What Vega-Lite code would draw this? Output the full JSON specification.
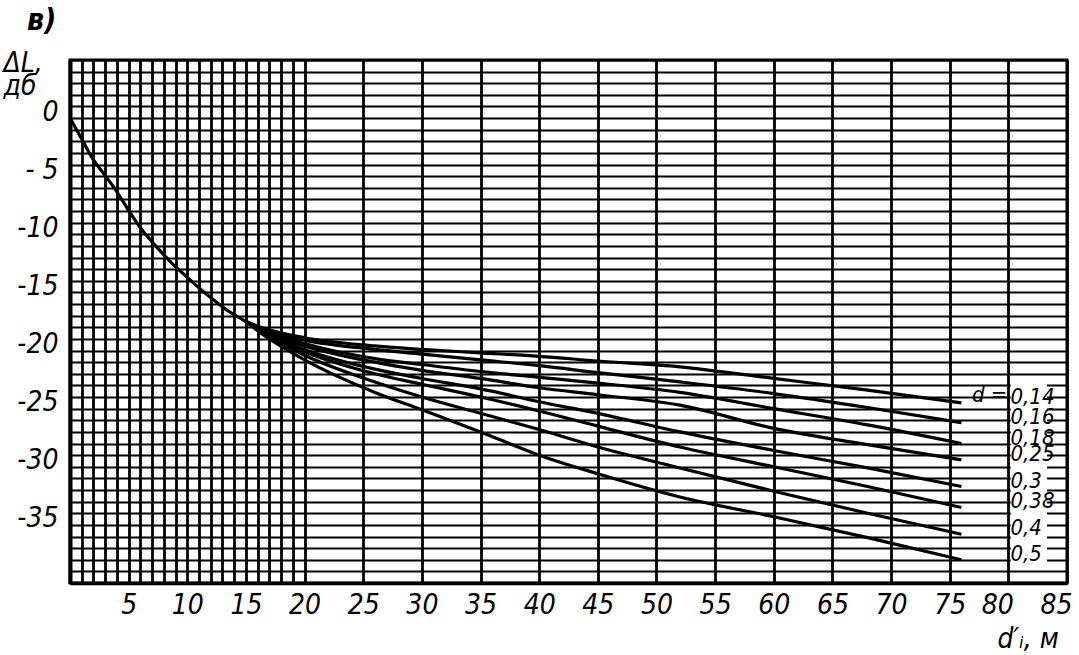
{
  "$schema": "https://vega.github.io/schema/vega-lite/v6.json",
  "width": 997,
  "height": 523,
  "autosize": {"type": "none"},
  "padding": {"left": 70, "top": 60, "right": 12, "bottom": 72},
  "background": "white",
  "config": {
    "view": {"stroke": "black", "strokeWidth": 3},
    "axis": {
      "gridColor": "black", "gridOpacity": 1, "ticks": false, "domainColor": "black",
      "labelFont": "'Liberation Sans Narrow', 'DejaVu Sans Condensed', 'Liberation Sans', sans-serif",
      "labelFontSize": 28, "labelFontStyle": "italic", "labelColor": "black", "labelFlush": false, "labelOverlap": false,
      "titleFont": "'Liberation Sans Narrow', 'DejaVu Sans Condensed', 'Liberation Sans', sans-serif",
      "titleFontSize": 28, "titleFontStyle": "italic", "titleFontWeight": "normal", "titleColor": "black"
    }
  },
  "title": {"text": "в)", "anchor": "start", "frame": "group", "dx": -43, "offset": 4, "fontSize": 30, "fontWeight": "bold", "fontStyle": "italic", "font": "'Liberation Sans Narrow', 'DejaVu Sans Condensed', 'Liberation Sans', sans-serif", "color": "black"},
  "datasets": {
    "curves": [
    {"s": "c", "x": 0, "y": 0}, {"s": "c", "x": 1, "y": -1.8}, {"s": "c", "x": 2, "y": -3.6}, {"s": "c", "x": 3, "y": -4.95}, {"s": "c", "x": 3.7, "y": -5.9}, {"s": "c", "x": 5.1, "y": -8.1}, {"s": "c", "x": 6.2, "y": -9.7}, {"s": "c", "x": 7.4, "y": -11.1}, {"s": "c", "x": 8.7, "y": -12.5}, {"s": "c", "x": 10, "y": -13.7}, {"s": "c", "x": 11.1, "y": -14.7}, {"s": "c", "x": 12.2, "y": -15.6}, {"s": "c", "x": 13.5, "y": -16.6}, {"s": "c", "x": 15, "y": -17.5},
    {"s": "0,14", "x": 15, "y": -17.5}, {"s": "0,14", "x": 16, "y": -17.9}, {"s": "0,14", "x": 20, "y": -18.9}, {"s": "0,14", "x": 26, "y": -19.6}, {"s": "0,14", "x": 30, "y": -19.9}, {"s": "0,14", "x": 35, "y": -20.2}, {"s": "0,14", "x": 40, "y": -20.5}, {"s": "0,14", "x": 45, "y": -20.9}, {"s": "0,14", "x": 52, "y": -21.4}, {"s": "0,14", "x": 60, "y": -22.4}, {"s": "0,14", "x": 68, "y": -23.4}, {"s": "0,14", "x": 76, "y": -24.5},
    {"s": "0,16", "x": 15, "y": -17.5}, {"s": "0,16", "x": 16, "y": -18.0}, {"s": "0,16", "x": 20, "y": -19.1}, {"s": "0,16", "x": 26, "y": -19.9}, {"s": "0,16", "x": 30, "y": -20.3}, {"s": "0,16", "x": 35, "y": -20.8}, {"s": "0,16", "x": 40, "y": -21.3}, {"s": "0,16", "x": 45, "y": -21.9}, {"s": "0,16", "x": 52, "y": -22.7}, {"s": "0,16", "x": 60, "y": -23.7}, {"s": "0,16", "x": 68, "y": -24.9}, {"s": "0,16", "x": 76, "y": -26.2},
    {"s": "0,18", "x": 15, "y": -17.5}, {"s": "0,18", "x": 16, "y": -18.0}, {"s": "0,18", "x": 20, "y": -19.4}, {"s": "0,18", "x": 26, "y": -20.7}, {"s": "0,18", "x": 30, "y": -21.2}, {"s": "0,18", "x": 35, "y": -21.8}, {"s": "0,18", "x": 40, "y": -22.3}, {"s": "0,18", "x": 45, "y": -22.8}, {"s": "0,18", "x": 52, "y": -23.6}, {"s": "0,18", "x": 60, "y": -25.0}, {"s": "0,18", "x": 68, "y": -26.4}, {"s": "0,18", "x": 76, "y": -28.0},
    {"s": "0,25", "x": 15, "y": -17.5}, {"s": "0,25", "x": 16, "y": -18.1}, {"s": "0,25", "x": 20, "y": -19.6}, {"s": "0,25", "x": 26, "y": -21.0}, {"s": "0,25", "x": 30, "y": -21.7}, {"s": "0,25", "x": 35, "y": -22.4}, {"s": "0,25", "x": 40, "y": -23.2}, {"s": "0,25", "x": 45, "y": -23.8}, {"s": "0,25", "x": 52, "y": -24.7}, {"s": "0,25", "x": 60, "y": -26.7}, {"s": "0,25", "x": 68, "y": -28.1}, {"s": "0,25", "x": 76, "y": -29.4},
    {"s": "0,3", "x": 15, "y": -17.5}, {"s": "0,3", "x": 16, "y": -18.1}, {"s": "0,3", "x": 20, "y": -19.9}, {"s": "0,3", "x": 26, "y": -21.6}, {"s": "0,3", "x": 30, "y": -22.4}, {"s": "0,3", "x": 35, "y": -23.3}, {"s": "0,3", "x": 40, "y": -24.4}, {"s": "0,3", "x": 45, "y": -25.4}, {"s": "0,3", "x": 52, "y": -27.0}, {"s": "0,3", "x": 60, "y": -28.6}, {"s": "0,3", "x": 68, "y": -30.1}, {"s": "0,3", "x": 76, "y": -31.7},
    {"s": "0,38", "x": 15, "y": -17.5}, {"s": "0,38", "x": 16, "y": -18.2}, {"s": "0,38", "x": 20, "y": -20.1}, {"s": "0,38", "x": 26, "y": -22.0}, {"s": "0,38", "x": 30, "y": -22.9}, {"s": "0,38", "x": 35, "y": -24.0}, {"s": "0,38", "x": 40, "y": -25.2}, {"s": "0,38", "x": 45, "y": -26.5}, {"s": "0,38", "x": 52, "y": -28.3}, {"s": "0,38", "x": 60, "y": -30.0}, {"s": "0,38", "x": 68, "y": -31.7}, {"s": "0,38", "x": 76, "y": -33.5},
    {"s": "0,4", "x": 15, "y": -17.5}, {"s": "0,4", "x": 16, "y": -18.2}, {"s": "0,4", "x": 20, "y": -20.4}, {"s": "0,4", "x": 26, "y": -22.7}, {"s": "0,4", "x": 30, "y": -24.0}, {"s": "0,4", "x": 35, "y": -25.4}, {"s": "0,4", "x": 40, "y": -26.8}, {"s": "0,4", "x": 45, "y": -28.3}, {"s": "0,4", "x": 52, "y": -30.1}, {"s": "0,4", "x": 60, "y": -32.1}, {"s": "0,4", "x": 68, "y": -34.0}, {"s": "0,4", "x": 76, "y": -35.8},
    {"s": "0,5", "x": 15, "y": -17.5}, {"s": "0,5", "x": 16, "y": -18.3}, {"s": "0,5", "x": 20, "y": -20.8}, {"s": "0,5", "x": 26, "y": -23.6}, {"s": "0,5", "x": 30, "y": -25.1}, {"s": "0,5", "x": 35, "y": -27.0}, {"s": "0,5", "x": 40, "y": -29.0}, {"s": "0,5", "x": 45, "y": -30.6}, {"s": "0,5", "x": 52, "y": -32.6}, {"s": "0,5", "x": 60, "y": -34.3}, {"s": "0,5", "x": 68, "y": -36.1}, {"s": "0,5", "x": 76, "y": -38.0}
    ],
    "legendbox": [{"x": 80.2, "x1": 83.3, "y": -22.4, "y1": -38.4}]
  },
  "layer": [
    {
      "data": {"name": "legendbox"},
      "mark": {"type": "rect", "fill": "white", "fillOpacity": 1, "opacity": 1, "strokeWidth": 0},
      "encoding": {
        "x": {"field": "x", "type": "quantitative", "scale": {"domain": [0, 85], "nice": false, "zero": false},
          "axis": {"values": [0,1,2,3,4,5,6,7,8,9,10,11,12,13,14,15,16,17,18,19,20,25,30,35,40,45,50,55,60,65,70,75,80,85], "grid": true, "gridWidth": 2.8, "domain": true, "domainWidth": 3.5, "labelExpr": "datum.value % 5 == 0 && datum.value > 0 ? datum.label : ''", "labelOffset": {"condition": {"test": "datum.value >= 80", "value": -11}, "value": 0}, "labelPadding": 8, "title": "d′ᵢ, м", "titleX": 927, "titleY": 64, "titleAlign": "left", "titleBaseline": "alphabetic"}},
        "x2": {"field": "x1"},
        "y": {"field": "y", "type": "quantitative", "scale": {"domain": [-40, 5], "nice": false, "zero": false},
          "axis": {"values": [-40,-39,-38,-37,-36,-35,-34,-33,-32,-31,-30,-29,-28,-27,-26,-25,-24,-23,-22,-21,-20,-19,-18,-17,-16,-15,-14,-13,-12,-11,-10,-9,-8,-7,-6,-5,-4,-3,-2,-1,0,1,2,3,4,5], "grid": true, "gridWidth": 2.2, "domain": true, "domainWidth": 4, "labelExpr": "datum.value % 5 == 0 && datum.value <= 0 && datum.value >= -35 ? (datum.value == 0 ? '0' : (datum.value == -5 ? '- 5' : '-' + abs(datum.value))) : ''", "labelPadding": 12, "labelOffset": -6, "title": ["ΔL,", "дб"], "titleAngle": 0, "titleX": -67, "titleY": -11, "titleAlign": "left", "titleBaseline": "top", "titleLineHeight": 23}},
        "y2": {"field": "y1"}
      }
    },
    {
      "data": {"name": "curves"},
      "mark": {"type": "line", "color": "black", "strokeWidth": 3.2, "interpolate": "monotone"},
      "encoding": {
        "x": {"field": "x", "type": "quantitative", "scale": {"domain": [0, 85], "nice": false, "zero": false},
          "axis": {"values": [0,1,2,3,4,5,6,7,8,9,10,11,12,13,14,15,16,17,18,19,20,25,30,35,40,45,50,55,60,65,70,75,80,85], "grid": true, "gridWidth": 2.8, "domain": true, "domainWidth": 3.5, "labelExpr": "datum.value % 5 == 0 && datum.value > 0 ? datum.label : ''", "labelOffset": {"condition": {"test": "datum.value >= 80", "value": -11}, "value": 0}, "labelPadding": 8, "title": "d′ᵢ, м", "titleX": 927, "titleY": 64, "titleAlign": "left", "titleBaseline": "alphabetic"}},
        "y": {"field": "y", "type": "quantitative", "scale": {"domain": [-40, 5], "nice": false, "zero": false},
          "axis": {"values": [-40,-39,-38,-37,-36,-35,-34,-33,-32,-31,-30,-29,-28,-27,-26,-25,-24,-23,-22,-21,-20,-19,-18,-17,-16,-15,-14,-13,-12,-11,-10,-9,-8,-7,-6,-5,-4,-3,-2,-1,0,1,2,3,4,5], "grid": true, "gridWidth": 2.2, "domain": true, "domainWidth": 4, "labelExpr": "datum.value % 5 == 0 && datum.value <= 0 && datum.value >= -35 ? (datum.value == 0 ? '0' : (datum.value == -5 ? '- 5' : '-' + abs(datum.value))) : ''", "labelPadding": 12, "labelOffset": -6, "title": ["ΔL,", "дб"], "titleAngle": 0, "titleX": -67, "titleY": -11, "titleAlign": "left", "titleBaseline": "top", "titleLineHeight": 23}},
        "detail": {"field": "s"}
      }
    },
    {
      "data": {"name": "curves"},
      "transform": [{"filter": "datum.x == 76"}],
      "mark": {"type": "text", "align": "left", "baseline": "middle", "dx": 49, "dy": -6, "fontSize": 22, "fontStyle": "italic", "color": "black", "font": "'Liberation Sans Narrow', 'DejaVu Sans Condensed', 'Liberation Sans', sans-serif"},
      "encoding": {
        "x": {"field": "x", "type": "quantitative", "scale": {"domain": [0, 85], "nice": false, "zero": false},
          "axis": {"values": [0,1,2,3,4,5,6,7,8,9,10,11,12,13,14,15,16,17,18,19,20,25,30,35,40,45,50,55,60,65,70,75,80,85], "grid": true, "gridWidth": 2.8, "domain": true, "domainWidth": 3.5, "labelExpr": "datum.value % 5 == 0 && datum.value > 0 ? datum.label : ''", "labelOffset": {"condition": {"test": "datum.value >= 80", "value": -11}, "value": 0}, "labelPadding": 8, "title": "d′ᵢ, м", "titleX": 927, "titleY": 64, "titleAlign": "left", "titleBaseline": "alphabetic"}},
        "y": {"field": "y", "type": "quantitative", "scale": {"domain": [-40, 5], "nice": false, "zero": false},
          "axis": {"values": [-40,-39,-38,-37,-36,-35,-34,-33,-32,-31,-30,-29,-28,-27,-26,-25,-24,-23,-22,-21,-20,-19,-18,-17,-16,-15,-14,-13,-12,-11,-10,-9,-8,-7,-6,-5,-4,-3,-2,-1,0,1,2,3,4,5], "grid": true, "gridWidth": 2.2, "domain": true, "domainWidth": 4, "labelExpr": "datum.value % 5 == 0 && datum.value <= 0 && datum.value >= -35 ? (datum.value == 0 ? '0' : (datum.value == -5 ? '- 5' : '-' + abs(datum.value))) : ''", "labelPadding": 12, "labelOffset": -6, "title": ["ΔL,", "дб"], "titleAngle": 0, "titleX": -67, "titleY": -11, "titleAlign": "left", "titleBaseline": "top", "titleLineHeight": 23}},
        "text": {"field": "s"}
      }
    },
    {
      "data": {"name": "curves"},
      "transform": [{"filter": "datum.x == 76 && datum.s == '0,14'"}],
      "mark": {"type": "text", "text": "d =", "align": "right", "baseline": "middle", "dx": 46, "dy": -8, "fontSize": 22, "fontStyle": "italic", "color": "black", "font": "'Liberation Sans Narrow', 'DejaVu Sans Condensed', 'Liberation Sans', sans-serif"},
      "encoding": {
        "x": {"field": "x", "type": "quantitative", "scale": {"domain": [0, 85], "nice": false, "zero": false},
          "axis": {"values": [0,1,2,3,4,5,6,7,8,9,10,11,12,13,14,15,16,17,18,19,20,25,30,35,40,45,50,55,60,65,70,75,80,85], "grid": true, "gridWidth": 2.8, "domain": true, "domainWidth": 3.5, "labelExpr": "datum.value % 5 == 0 && datum.value > 0 ? datum.label : ''", "labelOffset": {"condition": {"test": "datum.value >= 80", "value": -11}, "value": 0}, "labelPadding": 8, "title": "d′ᵢ, м", "titleX": 927, "titleY": 64, "titleAlign": "left", "titleBaseline": "alphabetic"}},
        "y": {"field": "y", "type": "quantitative", "scale": {"domain": [-40, 5], "nice": false, "zero": false},
          "axis": {"values": [-40,-39,-38,-37,-36,-35,-34,-33,-32,-31,-30,-29,-28,-27,-26,-25,-24,-23,-22,-21,-20,-19,-18,-17,-16,-15,-14,-13,-12,-11,-10,-9,-8,-7,-6,-5,-4,-3,-2,-1,0,1,2,3,4,5], "grid": true, "gridWidth": 2.2, "domain": true, "domainWidth": 4, "labelExpr": "datum.value % 5 == 0 && datum.value <= 0 && datum.value >= -35 ? (datum.value == 0 ? '0' : (datum.value == -5 ? '- 5' : '-' + abs(datum.value))) : ''", "labelPadding": 12, "labelOffset": -6, "title": ["ΔL,", "дб"], "titleAngle": 0, "titleX": -67, "titleY": -11, "titleAlign": "left", "titleBaseline": "top", "titleLineHeight": 23}}
      }
    }
  ]
}
